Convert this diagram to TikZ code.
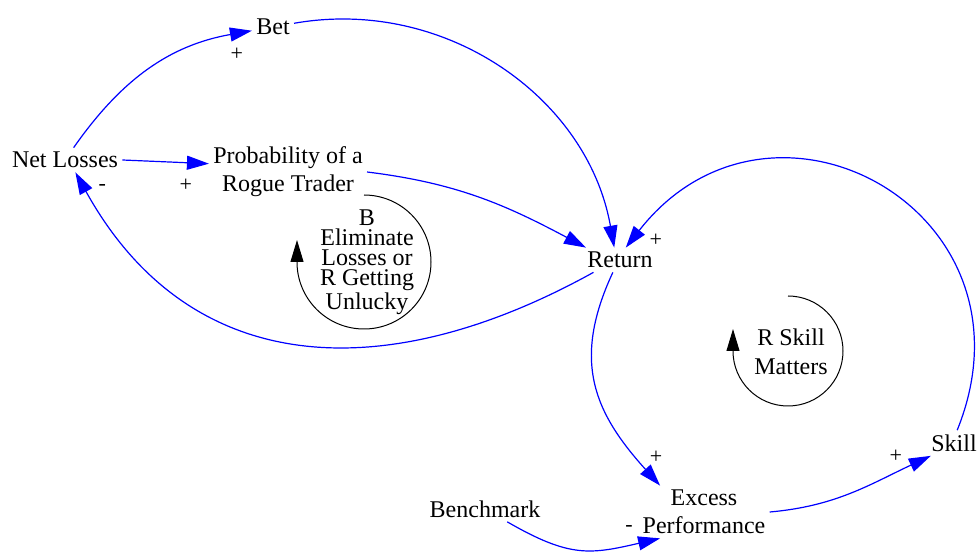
\documentclass[tikz,border=0pt]{standalone}
\usepackage{fontspec}
\setmainfont{Liberation Serif}
\usetikzlibrary{arrows.meta}
\begin{document}
\begin{tikzpicture}[x=0.5pt,y=0.5pt,
  var/.style={inner sep=2pt, align=center, font=\fontsize{12}{14}\selectfont},
  link/.style={draw=blue, line width=0.6pt, -{Triangle[length=11pt,width=7pt]}},
  looparrow/.style={draw=black, line width=0.5pt, -{Triangle[length=11pt,width=6.5pt]}},
  sign/.style={inner sep=0pt, font=\fontsize{11}{13}\selectfont}]
\useasboundingbox (0,0) rectangle (980,-560);
\node[var] (Bet) at (273,-27) {Bet};
\node[var] (NetLosses) at (65,-160) {Net Losses};
\node[var] (Prob) at (288,-172) {Probability of a\\Rogue Trader};
\node[var] (Return) at (620,-260) {Return};
\node[var] (Excess) at (704,-512) {Excess\\Performance};
\node[var] (Benchmark) at (485,-509) {Benchmark};
\node[var] (Skill) at (954,-443) {Skill};
\node[var, font=\fontsize{12}{10}\selectfont] (LoopB) at (367,-262) {B\\Eliminate\\Losses or\\R Getting\\Unlucky};
\node[var, font=\fontsize{12}{14.5}\selectfont] (LoopR) at (791,-352) {R Skill\\Matters};
\draw [looparrow] (364,-195) arc[start angle=90, end angle=-180, radius=67] -- ++(0,22);
\draw [looparrow] (788,-296) arc[start angle=90, end angle=-180, radius=55] -- ++(0,22);
\draw [link] (NetLosses) to[out=55,in=190] node[sign, pos=1, shift={(-15,-24)}] {+} (Bet);
\draw [link] (Bet) to[out=10,in=100] (Return.115);
\draw [link] (NetLosses.east) -- node[sign, pos=1, shift={(-23,-22)}] {+} (Prob.174);
\draw [link] (Prob.east) to[out=-7,in=152] (Return.160);
\draw [link] (Return.205) to[out=-151,in=-61,looseness=1.15] node[sign, pos=1, shift={(27,-15)}] {-} (NetLosses.-50);
\draw [link] (Return.240) to[out=-115,in=132,looseness=1.15] node[sign, pos=1, shift={(-4,28)}] {+} (Excess.149);
\draw [link] (Excess.east) to[out=5,in=205] node[sign, pos=1, shift={(-35,0)}] {+} (Skill.209);
\draw [link] (Skill.76) to[out=68,in=52,looseness=1.6] node[sign, pos=1, shift={(30,7)}] {+} (Return.65);
\draw [link] (Benchmark.-30) to[out=-30,in=193,looseness=1.2] node[sign, pos=1, shift={(-31,10)}] {-} (Excess.211);
\end{tikzpicture}
\end{document}
